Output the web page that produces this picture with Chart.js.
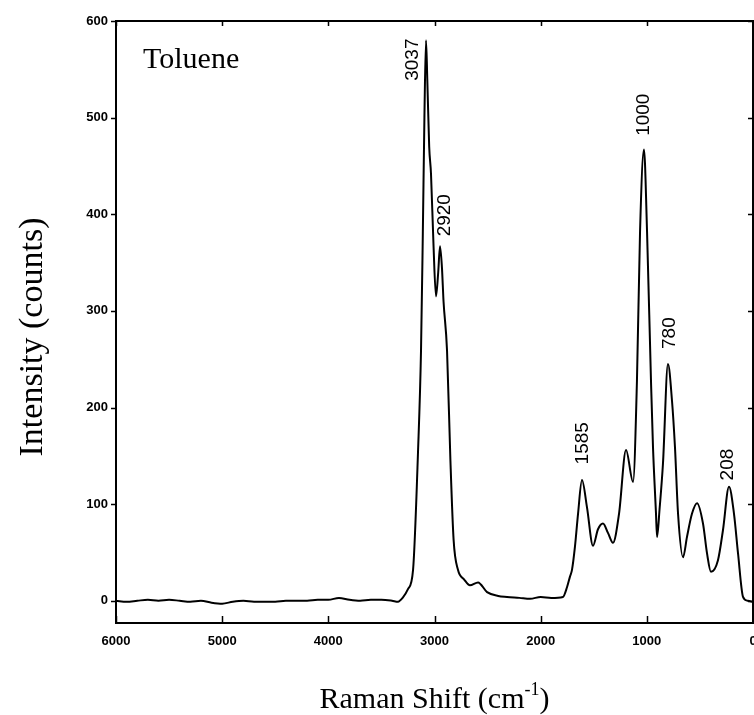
<!DOCTYPE html>
<html>
<head>
<meta charset="utf-8">
<script src="https://cdn.jsdelivr.net/npm/chart.js@4.4.0/dist/chart.umd.min.js"></script>
<style>
html, body { margin: 0; padding: 0; background: #fff; overflow: hidden; }
#wrap { width: 754px; height: 715px; }
canvas { display: block; }
</style>
</head>
<body>
<div id="wrap"><canvas id="myChart" width="754" height="715"></canvas></div>
<script>
// Raman shift (cm-1) and intensity (counts) from left to right
var shift = [6000, 5900, 5800, 5700, 5600, 5500, 5400, 5300, 5200, 5100, 5000, 4900, 4800, 4700, 4600, 4500, 4400, 4300, 4200, 4100, 4000, 3900, 3800, 3700, 3600, 3500, 3400,
    3344, 3300, 3250, 3202, 3155, 3127, 3110, 3095, 3080, 3068, 3050, 3033, 3010, 2986, 2965, 2948, 2930, 2915, 2882, 2850, 2820, 2779, 2720, 2666, 2590, 2505, 2400, 2317, 2200, 2100, 2000, 1900, 1790,
    1752, 1724, 1705, 1677, 1648, 1611, 1564, 1507, 1460, 1413, 1365, 1319, 1262, 1196, 1130, 1093, 1064, 1027, 998, 961, 942, 914, 904, 880, 848, 801, 763, 735, 706, 659, 622, 575, 527, 471, 433, 396, 330, 283, 226, 179, 141, 94, 50, 0];
var intensity = [0, -1, 0, 1, 0, 1, 0, -1, 0, -2, -3, -1, 0, -1, -1, -1, 0, 0, 0, 1, 1, 3, 1, 0, 1, 1, 0,
    -1, 3, 12, 32, 155, 259, 380, 500, 580, 540, 470, 442, 370, 315, 340, 367, 345, 310, 259, 145, 63, 32, 22, 16, 19, 9, 5, 4, 3, 2, 4, 3, 4,
    14, 25, 32, 56, 90, 125, 97, 57, 74, 80, 70, 60, 90, 156, 123, 228, 382, 467, 382, 228, 159, 91, 66, 95, 142, 245, 207, 159, 90, 45, 66, 90, 101, 80, 49, 30, 42, 73, 118, 90, 49, 4, 0, -1];

var xTicks = [6000, 5000, 4000, 3000, 2000, 1000, 0];
var yTicks = [0, 100, 200, 300, 400, 500, 600];

// peak annotations: text and where the text sits (data units)
var peakNames = ['3037', '2920', '1585', '1000', '780', '208'];
var peakShift = [3202, 2901, 1601, 1027, 782, 235];
var peakHeight = [560, 399, 163, 503, 277, 141];

var sampleName = 'Toluene';
var xTitle = 'Raman Shift (cm';
var xTitleSup = '-1';
var yTitle = 'Intensity (counts)';

var serif = "'Liberation Serif', 'Times New Roman', serif";

var decor = {
    id: 'decor',
    afterDraw: function (chart) {
        var ctx = chart.ctx;
        var a = chart.chartArea;
        var sx = chart.scales.x;
        var sy = chart.scales.y;
        ctx.save();
        ctx.strokeStyle = '#000';
        ctx.fillStyle = '#000';
        ctx.lineWidth = 2;
        ctx.strokeRect(a.left, a.top, a.right - a.left, a.bottom - a.top);

        ctx.lineWidth = 1.5;
        ctx.beginPath();
        for (var i = 0; i < xTicks.length; i++) {
            var px = Math.round(sx.getPixelForValue(xTicks[i])) + 0.5;
            ctx.moveTo(px, a.bottom);
            ctx.lineTo(px, a.bottom - 7);
            ctx.moveTo(px, a.top);
            ctx.lineTo(px, a.top + 5);
        }
        for (var j = 0; j < yTicks.length; j++) {
            var py = Math.round(sy.getPixelForValue(yTicks[j])) + 0.5;
            ctx.moveTo(a.left - 5, py);
            ctx.lineTo(a.left, py);
            ctx.moveTo(a.right, py);
            ctx.lineTo(a.right - 5, py);
        }
        ctx.stroke();

        ctx.font = '30px ' + serif;
        ctx.textAlign = 'left';
        ctx.textBaseline = 'alphabetic';
        ctx.fillText(sampleName, 143, 68);

        // x title with superscript
        ctx.font = '30px ' + serif;
        var w1 = ctx.measureText(xTitle).width;
        ctx.font = '18px ' + serif;
        var w2 = ctx.measureText(xTitleSup).width;
        ctx.font = '30px ' + serif;
        var w3 = ctx.measureText(')').width;
        var x0 = (a.left + a.right) / 2 - (w1 + w2 + w3) / 2;
        ctx.fillText(xTitle, x0, 708);
        ctx.font = '18px ' + serif;
        ctx.fillText(xTitleSup, x0 + w1, 695);
        ctx.font = '30px ' + serif;
        ctx.fillText(')', x0 + w1 + w2, 708);

        ctx.save();
        ctx.translate(33, 337);
        ctx.rotate(-Math.PI / 2);
        ctx.textAlign = 'center';
        ctx.textBaseline = 'middle';
        ctx.font = '34px ' + serif;
        ctx.fillText(yTitle, 0, 0);
        ctx.restore();

        ctx.font = "19px 'Liberation Sans', Arial, sans-serif";
        ctx.textAlign = 'center';
        ctx.textBaseline = 'middle';
        for (var k = 0; k < peakNames.length; k++) {
            ctx.save();
            ctx.translate(sx.getPixelForValue(peakShift[k]), sy.getPixelForValue(peakHeight[k]));
            ctx.rotate(-Math.PI / 2);
            ctx.fillText(peakNames[k], 0, 0);
            ctx.restore();
        }
        ctx.restore();
    }
};

var points = [];
for (var i = 0; i < shift.length; i++) {
    points.push({ x: shift[i], y: intensity[i] });
}

function plainLabel(value) {
    return String(value);
}

var ctx = document.getElementById('myChart').getContext('2d');
var myChart = new Chart(ctx, {
    type: 'line',
    data: {
        datasets: [{
            label: sampleName,
            data: points,
            borderColor: '#000',
            borderWidth: 2,
            pointRadius: 0,
            fill: false,
            cubicInterpolationMode: 'monotone'
        }]
    },
    options: {
        responsive: false,
        animation: false,
        devicePixelRatio: 1,
        layout: {
            autoPadding: false,
            padding: { top: 21, right: 1, left: 0, bottom: 0 }
        },
        plugins: {
            legend: { display: false },
            tooltip: { enabled: false }
        },
        scales: {
            x: {
                type: 'linear',
                reverse: true,
                min: 0,
                max: 6000,
                grid: { display: false, drawTicks: false },
                border: { display: false },
                ticks: {
                    color: '#000',
                    padding: 11,
                    maxRotation: 0,
                    autoSkip: false,
                    callback: plainLabel,
                    font: { family: "'Liberation Sans', Arial, sans-serif", size: 13, weight: 'bold' }
                },
                afterBuildTicks: function (scale) {
                    scale.ticks = xTicks.map(function (v) { return { value: v }; });
                },
                afterFit: function (scale) {
                    scale.height = 92;
                    scale.paddingLeft = 0;
                    scale.paddingRight = 0;
                }
            },
            y: {
                min: -23,
                max: 600,
                grid: { display: false, drawTicks: false },
                border: { display: false },
                ticks: {
                    color: '#000',
                    padding: 8,
                    callback: plainLabel,
                    font: { family: "'Liberation Sans', Arial, sans-serif", size: 13, weight: 'bold' }
                },
                afterBuildTicks: function (scale) {
                    scale.ticks = yTicks.map(function (v) { return { value: v }; });
                },
                afterFit: function (scale) {
                    scale.width = 116;
                    scale.paddingTop = 0;
                    scale.paddingBottom = 0;
                }
            }
        }
    },
    plugins: [decor]
});
</script>
</body>
</html>
